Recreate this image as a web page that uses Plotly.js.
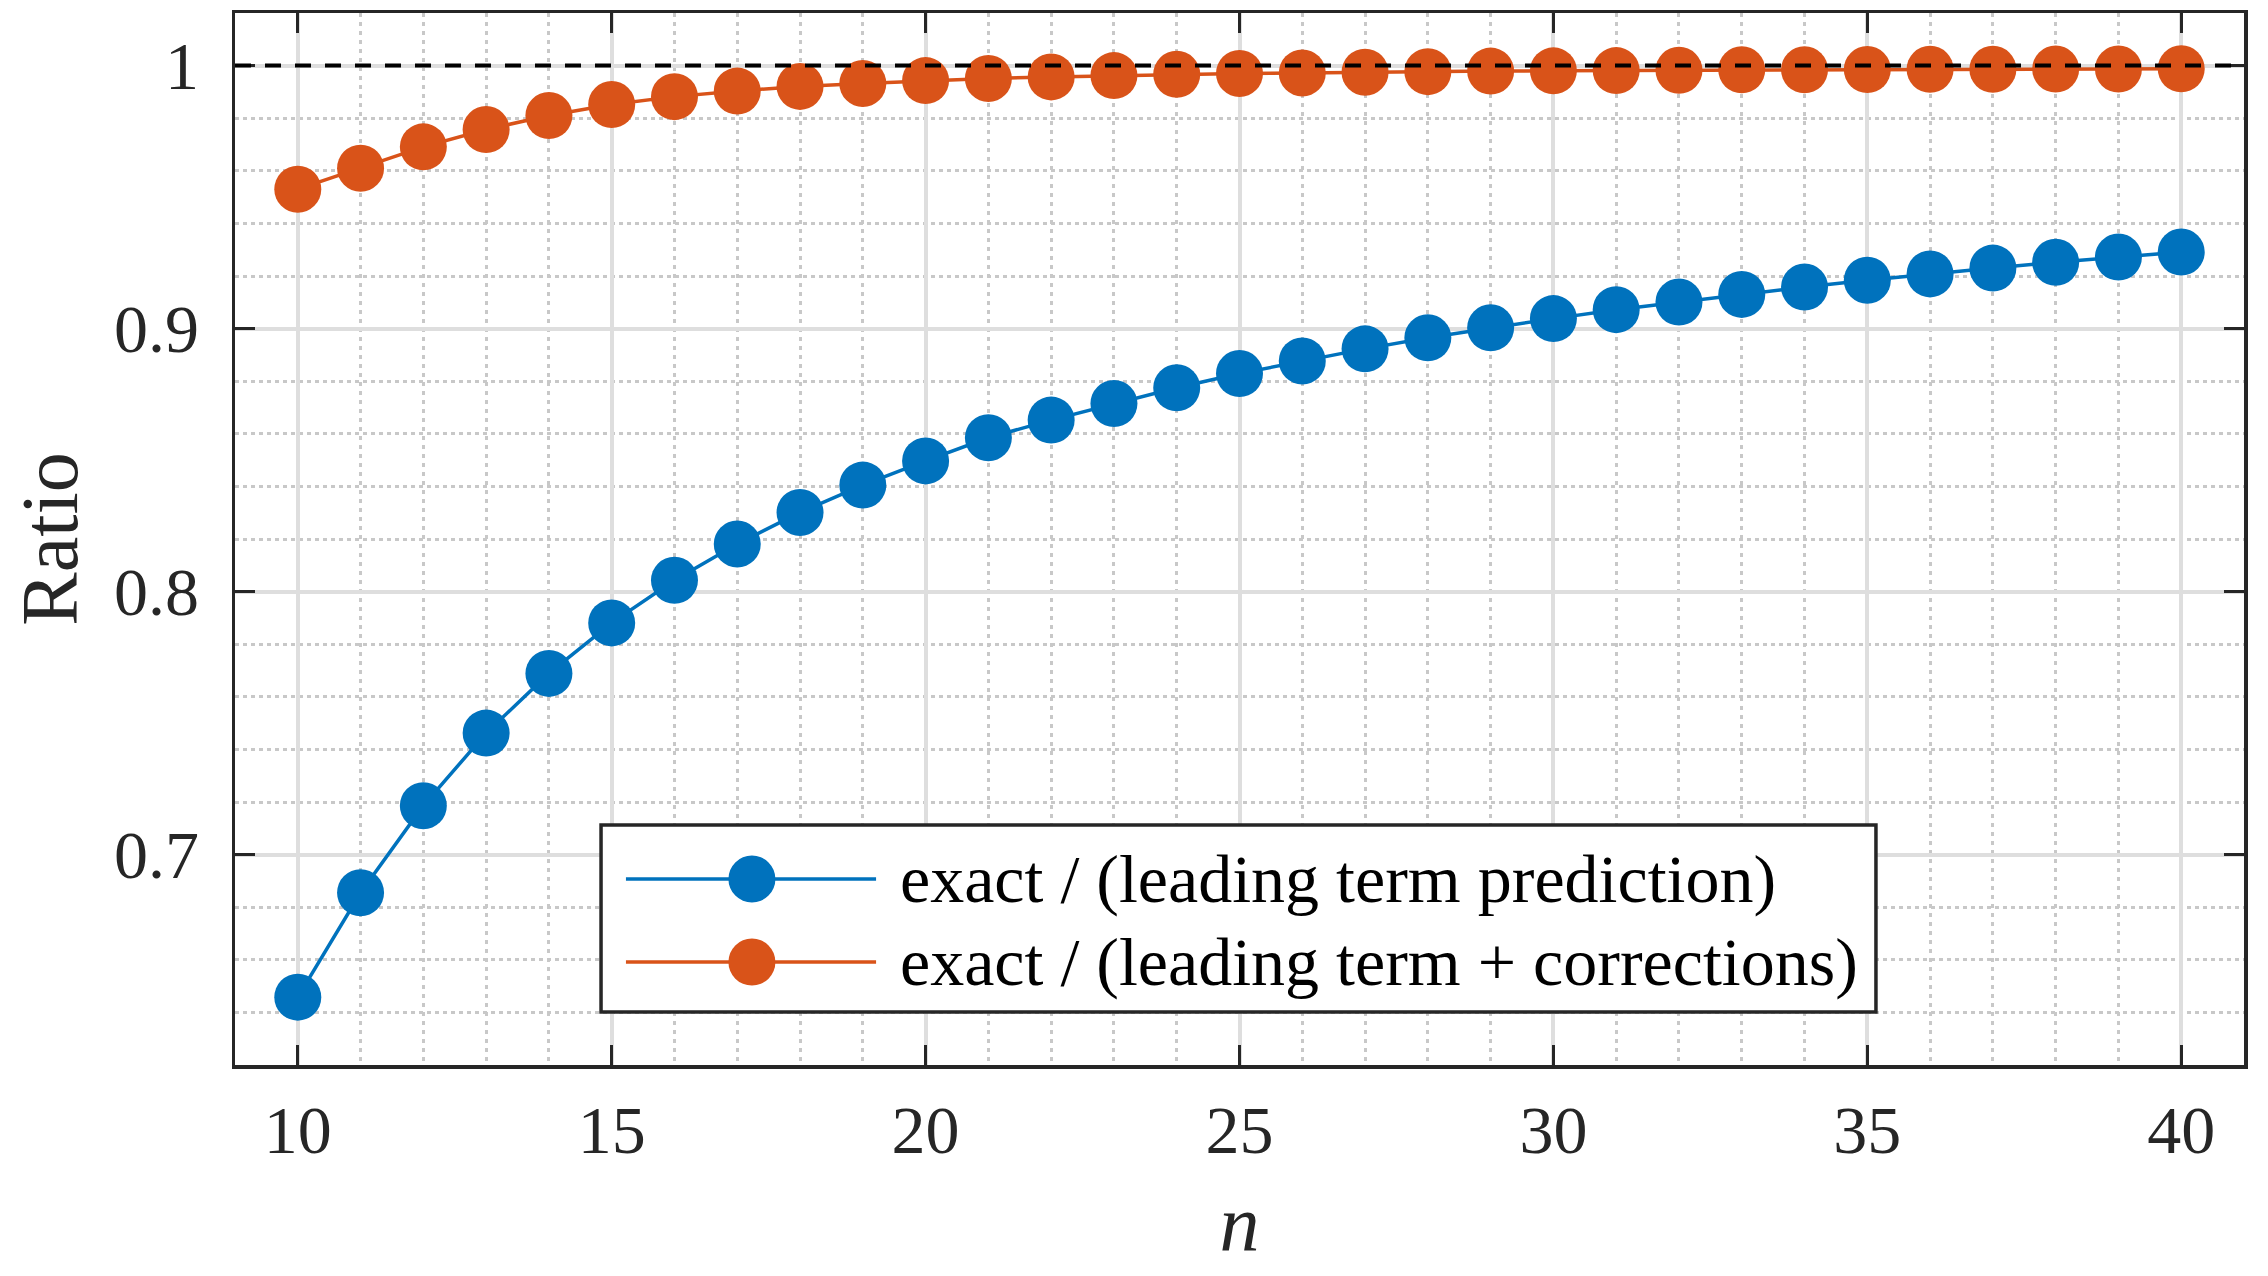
<!DOCTYPE html>
<html>
<head>
<meta charset="utf-8">
<script src="https://cdn.plot.ly/plotly-3.0.1.min.js"></script>
<style>
  html, body { margin: 0; padding: 0; background: #fff; }
  #plotly__graph { width: 2268px; height: 1276px; }
</style>
</head>
<body>
<div id="plotly__graph"></div>
<script>
// **********************************************************************************************
// DATA

const n_values = [10, 11, 12, 13, 14, 15, 16, 17, 18, 19, 20, 21, 22, 23, 24, 25,
                  26, 27, 28, 29, 30, 31, 32, 33, 34, 35, 36, 37, 38, 39, 40];

const ratio_leading = [0.6458, 0.6855, 0.7186, 0.7462, 0.7689, 0.7881, 0.8043, 0.8181,
                       0.8301, 0.8405, 0.8497, 0.8585, 0.8652, 0.8715, 0.8775, 0.8829,
                       0.8877, 0.8923, 0.8965, 0.9003, 0.9038, 0.9072, 0.9101, 0.9130,
                       0.9158, 0.9184, 0.9208, 0.9230, 0.9252, 0.9272, 0.9291];

const ratio_corrected = [0.9530, 0.9610, 0.9691, 0.9757, 0.9810, 0.9852, 0.9882, 0.9903,
                         0.9921, 0.9932, 0.9943, 0.9951, 0.9957, 0.9962, 0.9967, 0.9970,
                         0.9972, 0.9975, 0.9977, 0.9979, 0.9980, 0.9981, 0.9982, 0.9984,
                         0.9984, 0.9985, 0.9986, 0.9986, 0.9987, 0.9987, 0.9988];

const series_names = ['exact / (leading term prediction)', 'exact / (leading term + corrections)'];
const series_colors = ['#0072BD', '#D95319'];

const reference_level = 1;
const y_tick_vals = [0.7, 0.8, 0.9, 1];
const y_tick_text = ['0.7', '0.8', '0.9', '1'];

const FONT = "'Liberation Serif', 'Times New Roman', serif";
const AXIS_COLOR = '#262626';

// **********************************************************************************************
// TRACES

const make_trace = (y, i) => ({
    type: 'scatter',
    mode: 'lines+markers',
    name: series_names[i],
    x: n_values,
    y: y,
    line: { color: series_colors[i], width: 3.5 },
    marker: { color: series_colors[i], size: 47, line: { width: 0 } },
    showlegend: false
});

const data = [make_trace(ratio_leading, 0), make_trace(ratio_corrected, 1)];

// **********************************************************************************************
// LEGEND (drawn by hand so the line samples and markers keep their size)

const leg = { x0: 0.1822, x1: 0.8168, y0: 0.0504, y1: 0.2281,
              rows: [0.1768, 0.0979], line_x0: 0.1946, line_x1: 0.3191,
              marker_x: 0.2573, text_x: 0.3300 };

const shapes = [
    {   // dashed reference line at ratio = 1
        type: 'line', xref: 'paper', yref: 'y', x0: 0, x1: 1,
        y0: reference_level, y1: reference_level, layer: 'above',
        line: { color: '#000000', width: 4, dash: '16px,14px' }
    },
    {
        type: 'rect', xref: 'paper', yref: 'paper', layer: 'above',
        x0: leg.x0, x1: leg.x1, y0: leg.y0, y1: leg.y1,
        fillcolor: '#ffffff', line: { color: AXIS_COLOR, width: 3.5 }
    }
];

const annotations = [];

series_names.forEach((name, i) => {
    const yy = leg.rows[i];
    shapes.push({
        type: 'line', xref: 'paper', yref: 'paper', layer: 'above',
        x0: leg.line_x0, x1: leg.line_x1, y0: yy, y1: yy,
        line: { color: series_colors[i], width: 3.5 }
    });
    shapes.push({
        type: 'circle', xref: 'paper', yref: 'paper', layer: 'above',
        xsizemode: 'pixel', ysizemode: 'pixel',
        xanchor: leg.marker_x, yanchor: yy,
        x0: -23.5, x1: 23.5, y0: -23.5, y1: 23.5,
        fillcolor: series_colors[i], line: { width: 0 }
    });
    annotations.push({
        xref: 'paper', yref: 'paper', x: leg.text_x, y: yy,
        xanchor: 'left', yanchor: 'middle', showarrow: false,
        text: name, font: { family: FONT, size: 68, color: '#000000' }
    });
});

// **********************************************************************************************
// LAYOUT

const axis_common = {
    showline: true,
    linecolor: AXIS_COLOR,
    linewidth: 3.5,
    mirror: 'ticks',
    ticks: 'inside',
    ticklen: 20,
    tickwidth: 3,
    tickcolor: AXIS_COLOR,
    tickfont: { family: FONT, size: 68, color: AXIS_COLOR },
    showgrid: true,
    gridcolor: '#dedede',
    gridwidth: 4,
    zeroline: false
};

const layout = {
    width: 2268,
    height: 1276,
    margin: { t: 13, r: 24, b: 211, l: 235, pad: 0 },
    paper_bgcolor: '#ffffff',
    plot_bgcolor: '#ffffff',
    font: { family: FONT, color: AXIS_COLOR },
    showlegend: false,
    xaxis: Object.assign({}, axis_common, {
        range: [9, 41],
        tick0: 10,
        dtick: 5,
        ticklabelstandoff: 3,
        minor: { dtick: 1, showgrid: true, gridcolor: '#c8c8c8', gridwidth: 3, griddash: '4px,5px' },
        title: { text: '<i>n</i>', font: { family: FONT, size: 80, color: AXIS_COLOR }, standoff: 28 }
    }),
    yaxis: Object.assign({}, axis_common, {
        range: [0.62, 1.02],
        tickvals: y_tick_vals,
        ticktext: y_tick_text,
        ticklabelstandoff: 19,
        minor: { dtick: 0.02, tick0: 0, showgrid: true, gridcolor: '#c8c8c8', gridwidth: 3, griddash: '4px,4px' },
        title: { text: 'Ratio', font: { family: FONT, size: 80, color: AXIS_COLOR }, standoff: 11 }
    }),
    shapes: shapes,
    annotations: annotations
};

// **********************************************************************************************
// CONFIG

const config = {
    displaylogo: false,
    displayModeBar: false,
    staticPlot: true
};

// **********************************************************************************************
// CREATE AND APPEND

Plotly.newPlot(document.getElementById('plotly__graph'), data, layout, config);
</script>
</body>
</html>
